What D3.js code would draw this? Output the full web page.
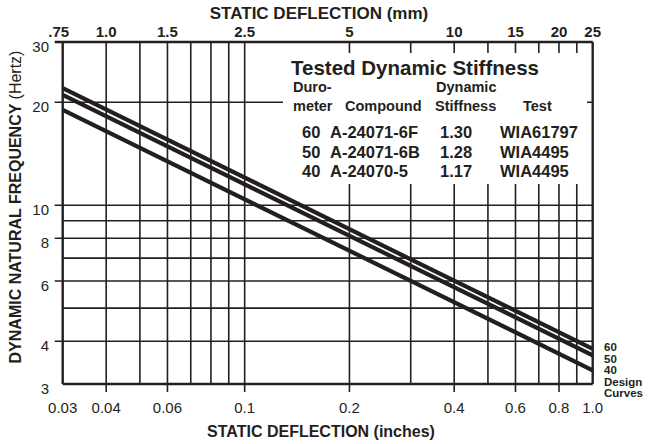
<!DOCTYPE html>
<html>
<head>
<meta charset="utf-8">
<script src="https://cdn.jsdelivr.net/npm/d3@7"></script>
<style>
  html, body { margin: 0; padding: 0; background: #fff; }
  svg { display: block; font-family: "Liberation Sans", Arial, Helvetica, sans-serif; }
</style>
</head>
<body>
<svg id="chart"></svg>
<script>
// design curves: static deflection (in) vs natural frequency (Hz)
const deflection = [0.03, 1.0];
const curve60 = [22.0, 3.8];
const curve50 = [21.0, 3.64];
const curve40 = [19.0, 3.29];
const curveNames = ["60", "50", "40"];

// axis ticks
const inchGrid = [0.04, 0.05, 0.06, 0.07, 0.08, 0.09, 0.1, 0.2, 0.3, 0.4, 0.5, 0.6, 0.7, 0.8, 0.9];
const inchLabels = [0.03, 0.04, 0.06, 0.1, 0.2, 0.4, 0.6, 0.8, 1.0];
const inchMajor = [0.04, 0.06, 0.1, 0.2, 0.4, 0.6, 0.8];
const mmLabels = [0.75, 1.0, 1.5, 2.5, 5, 10, 15, 20, 25];
const mmText = [".75", "1.0", "1.5", "2.5", "5", "10", "15", "20", "25"];
const freqGrid = [4, 5, 6, 7, 8, 9, 10, 20];
const freqLabels = [3, 4, 6, 8, 10, 20, 30];
const freqMajor = [4, 6, 8, 10, 20, 30];

// table
const tableDuro = ["60", "50", "40"];
const tableCompound = ["A-24071-6F", "A-24071-6B", "A-24070-5"];
const tableStiffness = ["1.30", "1.28", "1.17"];
const tableTest = ["WIA61797", "WIA4495", "WIA4495"];

const width = 658, height = 444;
const ink = "#231f20";

const svg = d3.select("#chart")
    .attr("width", width)
    .attr("height", height);

const x = d3.scaleLog().domain([0.03, 1.0]).range([62.7, 592.7]);
const xmm = d3.scaleLog().domain([0.75, 25]).range(x.range());
const y = d3.scaleLog().domain([3, 30]).range([384, 42]);

const [x0, x1] = x.range();
const [y0, y1] = y.range();

// grid
const grid = svg.append("g");
grid.selectAll("line.v")
    .data(inchGrid)
    .enter().append("line")
    .attr("x1", d => x(d)).attr("x2", d => x(d))
    .attr("y1", y1).attr("y2", d => inchMajor.includes(d) ? y0 + 8 : y0)
    .attr("stroke", ink).attr("stroke-width", 1.6);

grid.selectAll("line.h")
    .data(freqGrid)
    .enter().append("line")
    .attr("x1", d => freqMajor.includes(d) ? x0 - 8 : x0).attr("x2", x1)
    .attr("y1", d => y(d)).attr("y2", d => y(d))
    .attr("stroke", ink).attr("stroke-width", 1.6);

// frame
const frame = svg.append("g").attr("stroke", ink).attr("stroke-width", 2.4);
frame.append("line").attr("x1", x0 - 8).attr("x2", x1).attr("y1", y1).attr("y2", y1);
frame.append("line").attr("x1", x0).attr("x2", x1).attr("y1", y0).attr("y2", y0);
frame.append("line").attr("x1", x0).attr("x2", x0).attr("y1", y1).attr("y2", y0);
frame.append("line").attr("x1", x1).attr("x2", x1).attr("y1", y1).attr("y2", y0);

// table box hides grid
const box = svg.append("g");
box.append("rect")
    .attr("x", 283).attr("y", 53)
    .attr("width", 304).attr("height", 131)
    .attr("fill", "#fff");

box.append("text")
    .attr("x", 291).attr("y", 75)
    .attr("font-size", 20.5).attr("font-weight", "bold").attr("fill", ink)
    .text("Tested Dynamic Stiffness");

const head = box.append("g")
    .attr("font-size", 14.5).attr("font-weight", "bold").attr("fill", ink);
head.append("text").attr("x", 293).attr("y", 92).text("Duro-");
head.append("text").attr("x", 293).attr("y", 111).text("meter");
head.append("text").attr("x", 345).attr("y", 111).text("Compound");
head.append("text").attr("x", 436).attr("y", 92).text("Dynamic");
head.append("text").attr("x", 435).attr("y", 111).text("Stiffness");
head.append("text").attr("x", 523).attr("y", 111).text("Test");

const rows = box.append("g")
    .attr("font-size", 16.5).attr("font-weight", "bold").attr("fill", ink)
    .selectAll("g")
    .data(tableDuro)
    .enter().append("g")
    .attr("transform", (d, i) => `translate(0, ${138 + i * 19.5})`);
rows.append("text").attr("x", 302).text(d => d);
rows.append("text").attr("x", 330).text((d, i) => tableCompound[i]);
rows.append("text").attr("x", 440).text((d, i) => tableStiffness[i]);
rows.append("text").attr("x", 500).text((d, i) => tableTest[i]);

// design curves
const line = d3.line().x(d => x(d[0])).y(d => y(d[1]));
const curves = [curve60, curve50, curve40];
svg.append("g")
    .selectAll("path")
    .data(curves)
    .enter().append("path")
    .attr("d", c => line(deflection.map((dx, i) => [dx, c[i]])))
    .attr("fill", "none")
    .attr("stroke", ink)
    .attr("stroke-width", 4.2);

// curve labels
const side = svg.append("g")
    .attr("font-size", 11.5).attr("font-weight", "bold").attr("fill", ink);
side.selectAll("text")
    .data(curveNames.concat(["Design", "Curves"]))
    .enter().append("text")
    .attr("x", 604)
    .attr("y", (d, i) => 351 + i * 11.5)
    .text(d => d);

// bottom axis labels
svg.append("g")
    .attr("font-size", 15).attr("fill", ink).attr("text-anchor", "middle")
    .selectAll("text")
    .data(inchLabels)
    .enter().append("text")
    .attr("x", d => x(d))
    .attr("y", 413)
    .text(d => d === 1 ? "1.0" : String(d));

svg.append("text")
    .attr("x", 321).attr("y", 437)
    .attr("text-anchor", "middle")
    .attr("font-size", 16).attr("font-weight", "bold").attr("fill", ink)
    .text("STATIC DEFLECTION (inches)");

// top axis labels (mm)
svg.append("g")
    .attr("font-size", 15).attr("font-weight", "bold").attr("fill", ink).attr("text-anchor", "middle")
    .selectAll("text")
    .data(mmLabels)
    .enter().append("text")
    .attr("x", (d, i) => xmm(d) - (i === 0 ? 4 : 0))
    .attr("y", 37)
    .text((d, i) => mmText[i]);

svg.append("text")
    .attr("x", 319).attr("y", 19)
    .attr("text-anchor", "middle")
    .attr("font-size", 17).attr("font-weight", "bold").attr("fill", ink)
    .text("STATIC DEFLECTION (mm)");

// left axis labels
svg.append("g")
    .attr("font-size", 15).attr("fill", ink).attr("text-anchor", "end")
    .selectAll("text")
    .data(freqLabels)
    .enter().append("text")
    .attr("x", 49)
    .attr("y", d => y(d) + 10)
    .text(d => d);

const ylab = svg.append("text")
    .attr("transform", "translate(21, 207) rotate(-90)")
    .attr("text-anchor", "middle")
    .attr("font-size", 16).attr("font-weight", "bold").attr("fill", ink);
ylab.append("tspan").text("DYNAMIC NATURAL FREQUENCY ");
ylab.append("tspan").attr("font-weight", "normal").text("(Hertz)");
</script>
</body>
</html>
